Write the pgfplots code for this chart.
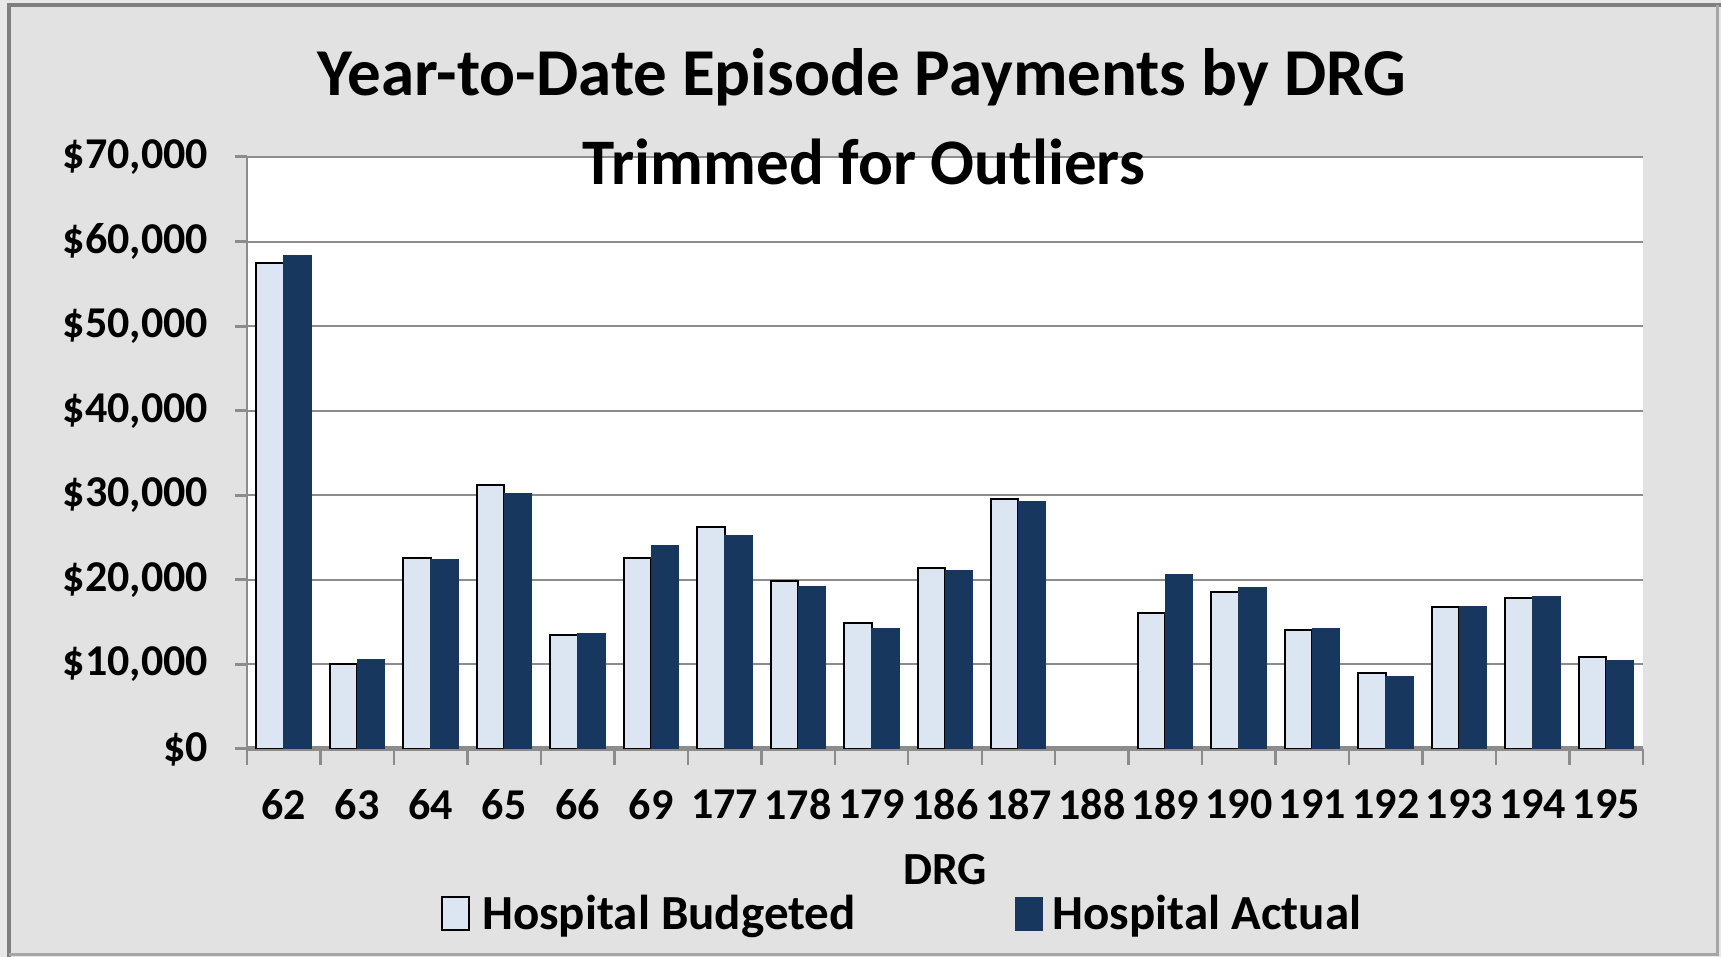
\documentclass[border=0pt]{standalone}
\usepackage{pgfplots}
\pgfplotsset{compat=1.18}
\usepackage{pgfplotstable}
\usepackage{fontspec}
\setmainfont{Carlito}
\definecolor{bud}{HTML}{DCE6F2}
\definecolor{act}{HTML}{17375E}
\definecolor{bg}{HTML}{E2E2E2}
\definecolor{outer}{HTML}{E8E8E8}
\definecolor{gridc}{HTML}{8C8C8C}
\definecolor{framec}{HTML}{7F7F7F}

\pgfplotstableread{
idx bud act
0 57500 58300
1 10100 10600
2 22600 22400
3 31200 30200
4 13500 13600
5 22600 24100
6 26300 25300
7 19900 19200
8 14900 14200
9 21400 21100
10 29600 29300
12 16100 20600
13 18600 19100
14 14100 14200
15 9000 8600
16 16800 16900
17 17900 18000
18 10900 10500
}\drgdata

\begin{document}
\begin{tikzpicture}
\useasboundingbox (0,0) rectangle (860.5pt,478.5pt);
\fill[outer] (0,0) rectangle (860.5pt,478.5pt);
\fill[bg] (4.5pt,1pt) rectangle (858.5pt,476pt);
\draw[framec, line width=2pt] (4.5pt,0pt) -- (4.5pt,476pt) -- (860.5pt,476pt);
\draw[gray!70, line width=1.5pt] (858.5pt,476pt) -- (858.5pt,1pt) -- (4.5pt,1pt);
\begin{axis}[
  at={(123.5pt,104pt)}, anchor=south west,
  width=698pt, height=296pt, scale only axis,
  axis background/.style={fill=white},
  ybar=0pt, bar width=13.75pt,
  xmin=-0.5, xmax=18.5, ymin=0, ymax=70000,
  scaled y ticks=false,
  separate axis lines,
  axis x line*=bottom, axis y line*=left,
  x axis line style={draw=gridc, line width=2.5pt, -},
  y axis line style={draw=gridc, line width=1pt, -},
  ymajorgrids, grid style={draw=gridc, line width=1pt},
  ytick={0,10000,20000,30000,40000,50000,60000,70000},
  yticklabels={\$0,{\$10,000},{\$20,000},{\$30,000},{\$40,000},{\$50,000},{\$60,000},{\$70,000}},
  xtick={0,...,18},
  xticklabels={62,63,64,65,66,69,177,178,179,186,187,188,189,190,191,192,193,194,195},
  minor xtick={-0.5,0.5,...,18.5},
  tick align=outside,
  major tick length=6pt, minor tick length=8pt,
  major x tick style={draw=none},
  minor x tick style={draw=gridc, line width=1.2pt},
  major y tick style={draw=gridc, line width=1.5pt},
  ticklabel style={font=\fontsize{22}{24}\selectfont\bfseries},
  yticklabel style={xshift=-10pt},
  xticklabel style={yshift=-10.7pt},
  xlabel={DRG},
  xlabel style={font=\fontsize{23}{25}\selectfont\bfseries, at={(axis description cs:0.5,-0.204)}, anchor=center},
  legend columns=2,
  legend style={draw=none, fill=none, at={(0.47,-0.279)}, anchor=center,
    font=\fontsize{24.5}{26}\selectfont\bfseries,
    /tikz/every even column/.append style={column sep=78pt}},
]
\addplot[fill=bud, draw=black, line width=1pt,
  legend image code/.code={\draw[fill=bud, draw=black, line width=1pt] (0pt,-8pt) rectangle (13.5pt,8.5pt); \path (17.5pt,0pt);}]
  table[x=idx, y=bud] {\drgdata};
\addplot[fill=act, draw=act, line width=0.5pt,
  legend image code/.code={\draw[fill=act, draw=act] (0pt,-8pt) rectangle (13.5pt,8.5pt); \path (16pt,0pt);}]
  table[x=idx, y=act] {\drgdata};
\legend{Hospital Budgeted, Hospital Actual}
\end{axis}
\node[font=\fontsize{33.5}{37}\selectfont\bfseries] at (431pt,440pt) {Year-to-Date Episode Payments by DRG};
\node[font=\fontsize{32.5}{36}\selectfont\bfseries] at (432pt,397.5pt) {Trimmed for Outliers};
\end{tikzpicture}
\end{document}
